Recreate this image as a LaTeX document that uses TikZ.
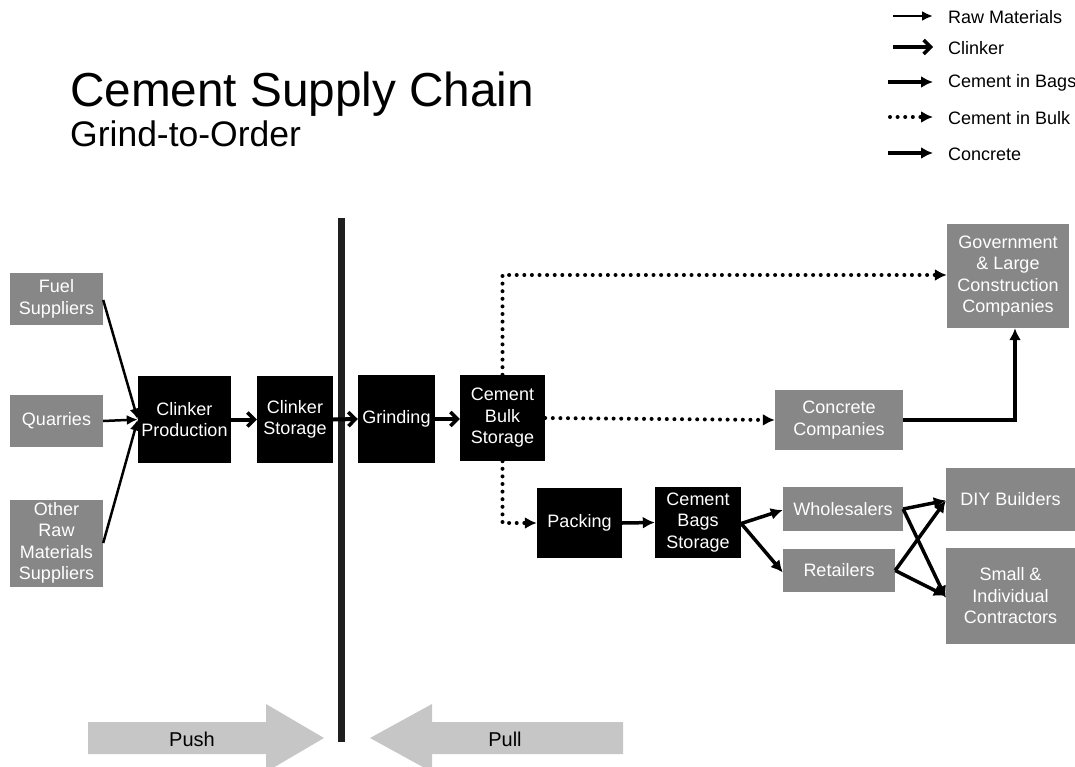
\documentclass[tikz,border=0pt]{standalone}
\usepackage{fontspec}
\setmainfont{Liberation Sans}
\usetikzlibrary{arrows.meta}
\definecolor{boxgrey}{HTML}{878787}
\definecolor{arrowgrey}{HTML}{C6C6C6}
\begin{document}
\begin{tikzpicture}[x=1pt,y=-1pt,
  base/.style={rectangle, inner sep=0pt, align=center, text=white,
     font=\fontsize{18}{21.5}\selectfont},
  greybox/.style={base, fill=boxgrey},
  blackbox/.style={base, fill=black},
  raw/.style={line width=2.5pt, -{Latex[length=11pt,width=10pt]}},
  clink/.style={line width=4pt, -{Straight Barb[length=7pt,width=14pt,line width=3.5pt]}},
  bags/.style={line width=3.5pt, -{Latex[length=12pt,width=12pt]}},
  bulk/.style={line width=4pt, line cap=round, dash pattern=on 0pt off 7.6pt,
     -{Latex[length=12pt,width=12pt]}},
  conc/.style={line width=3.5pt, -{Latex[length=12pt,width=12pt]}},
  legtext/.style={anchor=west, inner sep=0pt, font=\fontsize{18}{20}\selectfont}
]
\useasboundingbox (0,0) rectangle (1075,767);

% title
\node[anchor=base west, inner sep=0pt, font=\fontsize{47.7}{50}\selectfont] (title) at (70,107) {Cement Supply Chain};
\node[anchor=base west, inner sep=0pt, font=\fontsize{35.5}{38}\selectfont] (subtitle) at (70,147) {Grind-to-Order};

% legend
\coordinate (l1a) at (893,16);  \coordinate (l1b) at (933,16);
\coordinate (l2a) at (893,47);  \coordinate (l2b) at (933,47);
\coordinate (l3a) at (888,82);  \coordinate (l3b) at (933,82);
\coordinate (l4a) at (890,117); \coordinate (l4b) at (933,117);
\coordinate (l5a) at (888,153); \coordinate (l5b) at (933,153);
\draw[raw] (l1a) -- (l1b);
\draw[clink] (l2a) -- (l2b);
\draw[bags] (l3a) -- (l3b);
\draw[bulk] (l4a) -- (l4b);
\draw[conc] (l5a) -- (l5b);
\node[legtext] (t1) at (948,17) {Raw Materials};
\node[legtext] (t2) at (948,48) {Clinker};
\node[legtext] (t3) at (948,83) {Cement in Bags};
\node[legtext] (t4) at (948,118) {Cement in Bulk};
\node[legtext] (t5) at (948,154) {Concrete};

% nodes
\node[greybox, minimum width=93pt, minimum height=52pt] (fuel) at (56.5,299) {Fuel\\Suppliers};
\node[greybox, minimum width=93pt, minimum height=52pt] (quar) at (56.5,421) {Quarries};
\node[greybox, minimum width=93pt, minimum height=87pt] (other) at (56.5,543) {Other\\Raw\\Materials\\Suppliers};
\node[blackbox, minimum width=93pt, minimum height=87pt] (cprod) at (184.5,419.5) {Clinker\\Production};
\node[blackbox, minimum width=76pt, minimum height=87pt] (cstor) at (295,419.5) {Clinker\\Storage};
\node[blackbox, minimum width=77pt, minimum height=88pt] (grind) at (396.5,419) {Grinding};
\node[blackbox, minimum width=85pt, minimum height=86pt] (bulk) at (502.5,418) {Cement\\Bulk\\Storage};
\node[blackbox, minimum width=85pt, minimum height=70pt] (pack) at (579.5,523) {Packing};
\node[blackbox, minimum width=86pt, minimum height=71pt] (bagst) at (698,522.5) {Cement\\Bags\\Storage};
\node[greybox, minimum width=120pt, minimum height=44pt] (whole) at (843,509) {Wholesalers};
\node[greybox, minimum width=112pt, minimum height=43pt] (retail) at (839,570.5) {Retailers};
\node[greybox, minimum width=129pt, minimum height=63pt] (diy) at (1010.5,499.5) {DIY Builders};
\node[greybox, minimum width=129pt, minimum height=96pt] (small) at (1010.5,596) {Small \&\\Individual\\Contractors};
\node[greybox, minimum width=128pt, minimum height=60pt] (concr) at (839,420) {Concrete\\Companies};
\node[greybox, minimum width=122pt, minimum height=104pt] (gov) at (1008,276) {Government\\\& Large\\Construction\\Companies};

% push / pull separator
\fill[black!88] (338,218) rectangle (345,742);
\fill[arrowgrey] (88,722) -- (266,722) -- (266,704) -- (324,738) -- (266,772) -- (266,754) -- (88,754) -- cycle;
\fill[arrowgrey] (623,722) -- (432,722) -- (432,704) -- (370,738) -- (432,772) -- (432,754) -- (623,754) -- cycle;
\node[inner sep=0pt, font=\fontsize{20}{22}\selectfont] (push) at (192,739) {Push};
\node[inner sep=0pt, font=\fontsize{20}{22}\selectfont] (pull) at (505,739) {Pull};

% raw materials
\draw[raw] ([yshift=-1pt]fuel.east) -- (cprod.west);
\draw[raw] (quar.east) -- (cprod.west);
\draw[raw] (other.east) -- (cprod.west);

% clinker
\draw[clink] (cprod.east) -- (cstor.west);
\draw[clink] (cstor.east) -- (grind.west);
\draw[clink] (grind.east) -- ([yshift=-1pt]bulk.west);

% bulk
\draw[bulk] (bulk.north) |- ([yshift=1pt]gov.west);
\draw[bulk] (bulk.east) -- (concr.west);
\draw[bulk] (bulk.south) |- (pack.west);

% bags
\draw[bags] (pack.east) -- (bagst.west);
\draw[bags] ([yshift=-1pt]bagst.east) -- ([yshift=-1pt]whole.west);
\draw[bags] ([yshift=-1pt]bagst.east) -- ([yshift=-2pt]retail.west);
\draw[bags] (whole.east) -- ([yshift=-1pt]diy.west);
\draw[bags] (whole.east) -- ([yshift=-2pt]small.west);
\draw[bags] (retail.east) -- ([yshift=-1pt]diy.west);
\draw[bags] (retail.east) -- ([yshift=0pt]small.west);

% concrete
\draw[conc] (concr.east) -| ([xshift=7pt]gov.south);
\end{tikzpicture}
\end{document}
